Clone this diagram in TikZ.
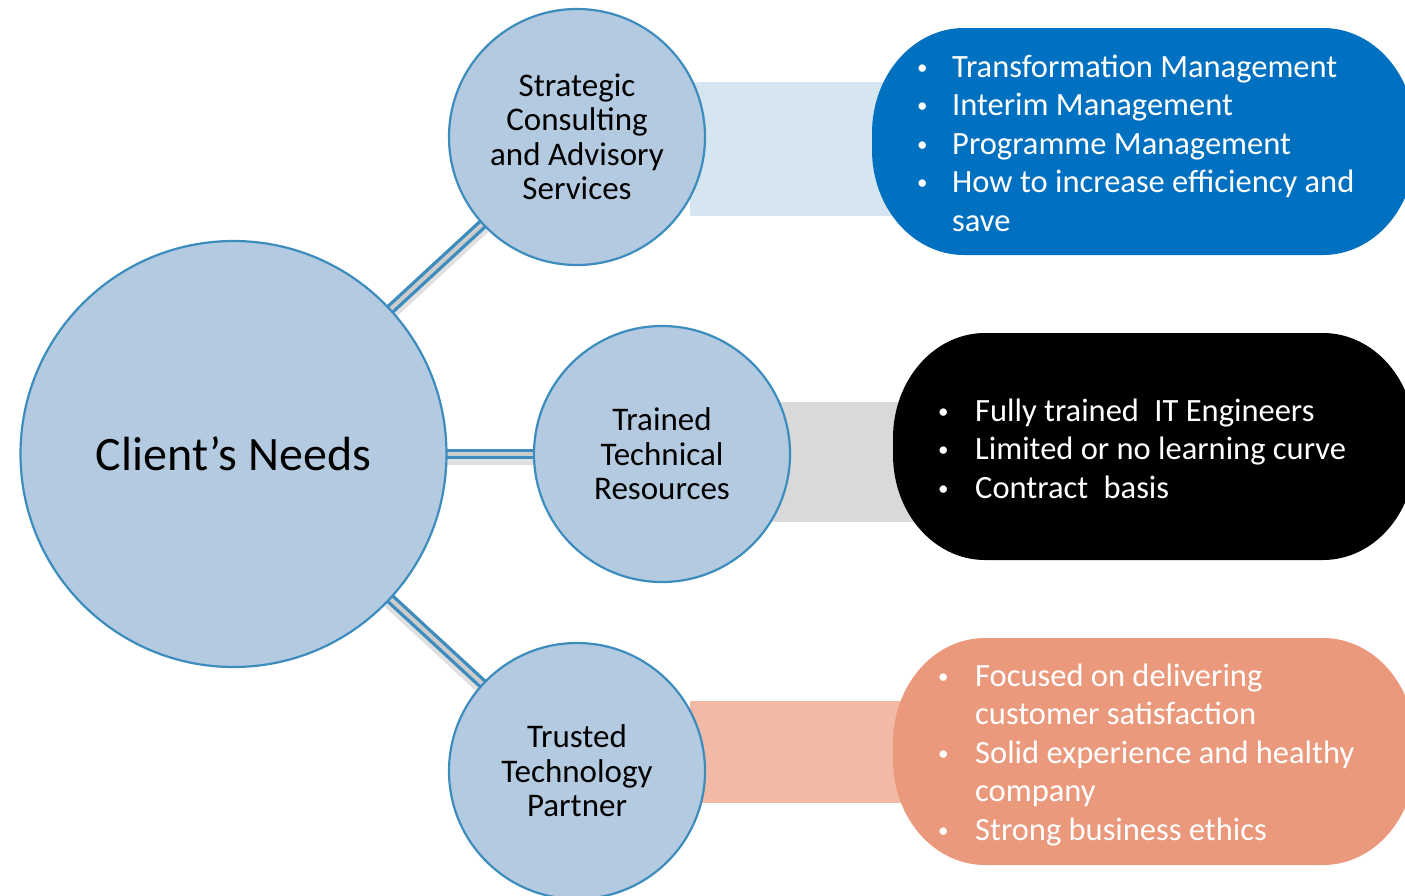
\documentclass[tikz,border=0pt]{standalone}
\usepackage{fontspec}
\setmainfont{Carlito}
\usetikzlibrary{backgrounds}
\definecolor{cfill}{RGB}{180,202,224}
\definecolor{cedge}{RGB}{60,140,190}
\definecolor{bandA}{RGB}{214,230,240}
\definecolor{bandB}{RGB}{217,217,217}
\definecolor{bandC}{RGB}{241,185,166}
\definecolor{boxA}{RGB}{0,112,192}
\definecolor{boxC}{RGB}{234,153,125}
\definecolor{gapgray}{RGB}{204,204,204}
\newcommand\bu{\raisebox{3pt}{\fontsize{21}{21}\selectfont •}}
\begin{document}
\begin{tikzpicture}[x=1pt,y=1pt,
  circ/.style={circle, draw=cedge, fill=cfill, line width=2.2pt, align=center, inner sep=0pt, text=black},
  small/.style={circ, minimum size=256pt, font=\fontsize{33}{34.5}\selectfont},
  conn/.style={draw=cedge, line width=3.3pt, double=gapgray, double distance=4pt, shorten <=-3pt, shorten >=-3pt},
  connshadow/.style={draw=black, opacity=0.12, line width=12pt, shorten <=-3pt, shorten >=-3pt},
  bul/.style={anchor=base west, inner sep=0pt, text=white, font=\fontsize{32.5}{38.5}\selectfont}
]
\useasboundingbox (0,0) rectangle (1405,-895);

% pill-shaped boxes
\fill[boxA] (872,-133) arc[start angle=180,end angle=90,x radius=92,y radius=105] -- (1323,-28)
  arc[start angle=90,end angle=0,x radius=92,y radius=105] -- (1415,-150)
  arc[start angle=0,end angle=-90,x radius=92,y radius=105] -- (964,-255)
  arc[start angle=-90,end angle=-180,x radius=92,y radius=105] -- cycle;
\fill[black] (893,-438) arc[start angle=180,end angle=90,x radius=92,y radius=105] -- (1323,-333)
  arc[start angle=90,end angle=0,x radius=92,y radius=105] -- (1415,-455)
  arc[start angle=0,end angle=-90,x radius=92,y radius=105] -- (985,-560)
  arc[start angle=-90,end angle=-180,x radius=92,y radius=105] -- cycle;
\fill[boxC] (893,-743) arc[start angle=180,end angle=90,x radius=92,y radius=105] -- (1323,-638)
  arc[start angle=90,end angle=0,x radius=92,y radius=105] -- (1415,-760)
  arc[start angle=0,end angle=-90,x radius=92,y radius=105] -- (985,-865)
  arc[start angle=-90,end angle=-180,x radius=92,y radius=105] -- cycle;

% circles
\node[circ, minimum size=426pt, font=\fontsize{48}{58}\selectfont] (need) at (233.5,-454) {Client’s Needs};
\node[small] (s1) at (577,-137) {Strategic\\Consulting\\and Advisory\\Services};
\node[small] (s2) at (662,-454) {Trained\\Technical\\Resources};
\node[small] (s3) at (577,-771) {Trusted\\Technology\\Partner};

% bands and connectors behind
\begin{scope}[on background layer]
  \fill[bandA] (690,-82) rectangle (900,-216);
  \fill[bandB] (770,-402) rectangle (920,-522);
  \fill[bandC] (690,-701) rectangle (920,-803);
  \draw[connshadow, transform canvas={yshift=-5pt}] (need) -- (s1);
  \draw[connshadow, transform canvas={yshift=-5pt}] (need) -- (s2);
  \draw[connshadow, transform canvas={yshift=-5pt}] (need) -- (s3);
  \draw[conn] (need) -- (s1);
  \draw[conn] (need) -- (s2);
  \draw[conn] (need) -- (s3);
\end{scope}

% bullet texts
\node[bul] (t1) at (917,-77) {\begin{tabular}[t]{@{}p{35pt}@{}l@{}}
\bu & Transformation Management\\
\bu & Interim Management\\
\bu & Programme Management\\
\bu & How to increase efficiency and\\
  & save
\end{tabular}};
\node[bul] (t2) at (938,-421) {\begin{tabular}[t]{@{}p{37pt}@{}l@{}}
\bu & Fully trained\hspace{0.25em} IT Engineers\\
\bu & Limited or no learning curve\\
\bu & Contract\hspace{0.25em} basis
\end{tabular}};
\node[bul] (t3) at (938,-686) {\begin{tabular}[t]{@{}p{37pt}@{}l@{}}
\bu & Focused on delivering\\
  & customer satisfaction\\
\bu & Solid experience and healthy\\
  & company\\
\bu & Strong business ethics
\end{tabular}};
\end{tikzpicture}
\end{document}
